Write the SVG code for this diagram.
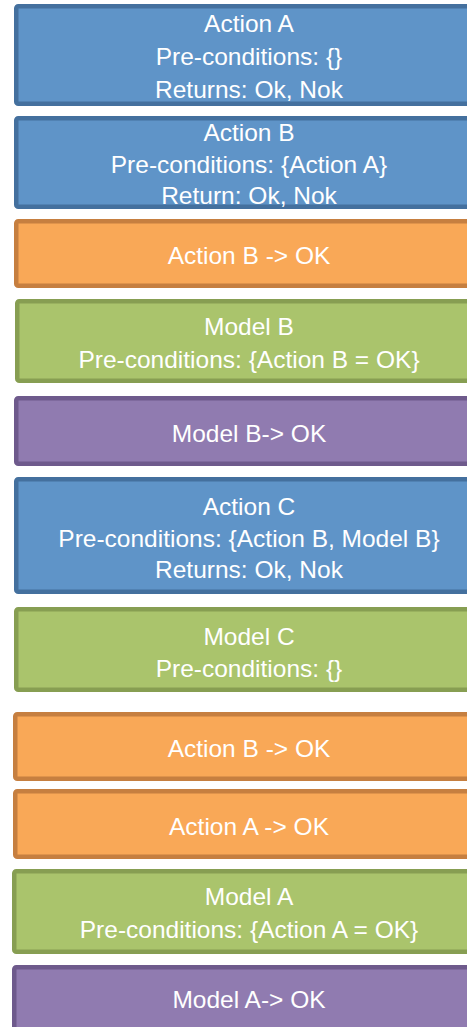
<svg xmlns="http://www.w3.org/2000/svg" width="467" height="1027" viewBox="0 0 467 1027">
  <style>
    .box { stroke-width: 4.5; }
    .blue { fill: #5f94c8; stroke: #44709e; }
    .orange { fill: #f9a857; stroke: #c67f40; }
    .green { fill: #aac46c; stroke: #879e52; }
    .purple { fill: #907bb0; stroke: #6e5a8c; }
    text { font-family: "Liberation Sans", Arial, sans-serif; font-size: 24.5px; fill: #ffffff; text-anchor: middle; }
  </style>
  <rect width="467" height="1027" fill="#ffffff"/>

  <g id="action-a">
    <rect class="box blue" x="16.25" y="6.25" width="480" height="97.5" rx="2"/>
    <text x="249" y="32">Action A</text>
    <text x="249" y="64.5">Pre-conditions: {}</text>
    <text x="249" y="98">Returns: Ok, Nok</text>
  </g>

  <g id="action-b">
    <rect class="box blue" x="16.25" y="118.25" width="480" height="88.5" rx="2"/>
    <text x="249" y="141">Action B</text>
    <text x="249" y="173">Pre-conditions: {Action A}</text>
    <text x="249" y="204">Return: Ok, Nok</text>
  </g>

  <g id="action-b-ok-1">
    <rect class="box orange" x="16.25" y="221.25" width="480" height="64.5" rx="2"/>
    <text x="249" y="264">Action B -&gt; OK</text>
  </g>

  <g id="model-b">
    <rect class="box green" x="17.25" y="301.25" width="480" height="79.5" rx="2"/>
    <text x="249" y="335">Model B</text>
    <text x="249" y="368">Pre-conditions: {Action B = OK}</text>
  </g>

  <g id="model-b-ok">
    <rect class="box purple" x="16.25" y="398.25" width="480" height="65.5" rx="2"/>
    <text x="249" y="442">Model B-&gt; OK</text>
  </g>

  <g id="action-c">
    <rect class="box blue" x="16.25" y="479.25" width="480" height="112.5" rx="2"/>
    <text x="249" y="515">Action C</text>
    <text x="249" y="547">Pre-conditions: {Action B, Model B}</text>
    <text x="249" y="578">Returns: Ok, Nok</text>
  </g>

  <g id="model-c">
    <rect class="box green" x="16.25" y="609.25" width="480" height="80.5" rx="2"/>
    <text x="249" y="645">Model C</text>
    <text x="249" y="677">Pre-conditions: {}</text>
  </g>

  <g id="action-b-ok-2">
    <rect class="box orange" x="15.25" y="714.25" width="480" height="64.5" rx="2"/>
    <text x="249" y="757">Action B -&gt; OK</text>
  </g>

  <g id="action-a-ok">
    <rect class="box orange" x="15.25" y="791.25" width="480" height="65.5" rx="2"/>
    <text x="249" y="835">Action A -&gt; OK</text>
  </g>

  <g id="model-a">
    <rect class="box green" x="14.25" y="871.25" width="480" height="80.5" rx="2"/>
    <text x="249" y="905">Model A</text>
    <text x="249" y="938">Pre-conditions: {Action A = OK}</text>
  </g>

  <g id="model-a-ok">
    <rect class="box purple" x="14.25" y="967.25" width="480" height="80" rx="2"/>
    <text x="249" y="1008">Model A-&gt; OK</text>
  </g>

  <g id="connectors"/>
</svg>
